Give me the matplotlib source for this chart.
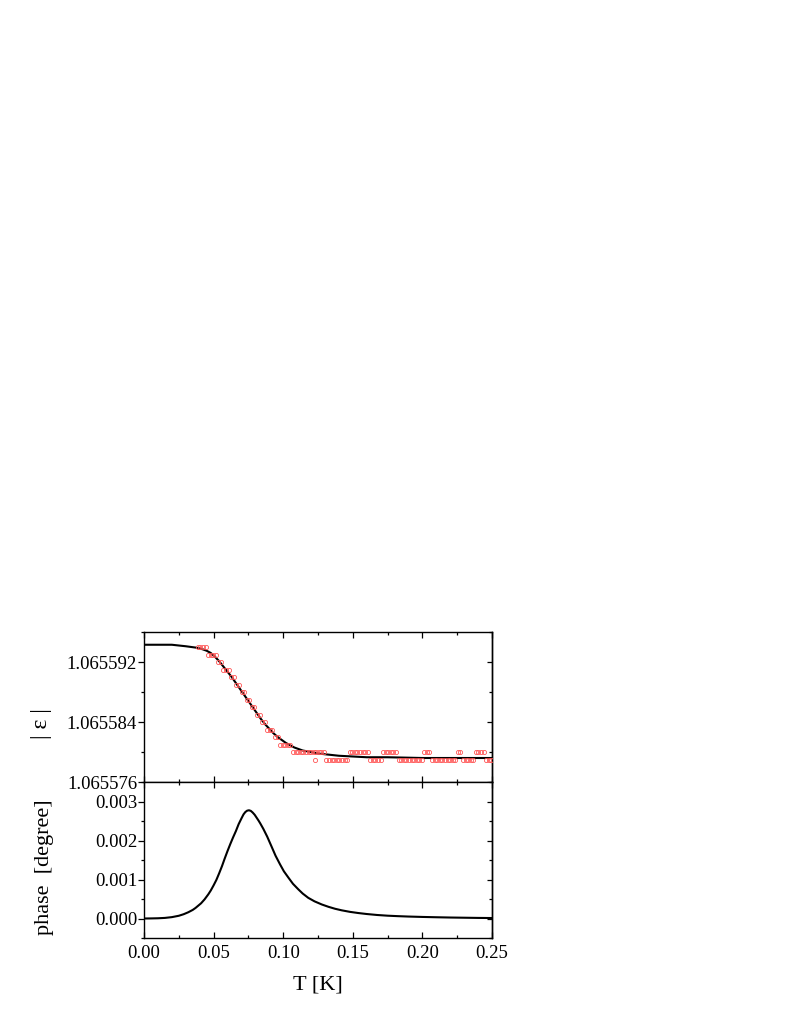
import numpy as np
import matplotlib
matplotlib.use("Agg")
import matplotlib.pyplot as plt
from matplotlib.ticker import MultipleLocator, FormatStrFormatter

plt.rcParams['font.family'] = ['Liberation Serif', 'DejaVu Serif']

# measured |eps| points (T in K)
t_data = [0.0386, 0.0405, 0.0423, 0.0442,
          0.0460, 0.0479, 0.0497, 0.0516,
          0.0534, 0.0553,
          0.0571, 0.0590, 0.0608,
          0.0627, 0.0645,
          0.0664, 0.0682,
          0.0701, 0.0719,
          0.0738, 0.0756,
          0.0775, 0.0793,
          0.0812, 0.0830,
          0.0849, 0.0867,
          0.0886, 0.0904, 0.0923,
          0.0941, 0.0960,
          0.0978, 0.0997, 0.1015, 0.1034, 0.1052,
          0.1071, 0.1089, 0.1108, 0.1126, 0.1145, 0.1163, 0.1182, 0.1200,
          0.1219, 0.1237, 0.1256, 0.1274, 0.1293,
          0.1228,
          0.1311, 0.1330, 0.1348, 0.1367, 0.1385, 0.1404, 0.1422, 0.1441, 0.1459,
          0.1478, 0.1496, 0.1515, 0.1533, 0.1552, 0.1570, 0.1589, 0.1607,
          0.1626, 0.1644, 0.1663, 0.1681, 0.1700,
          0.1718, 0.1737, 0.1755, 0.1774, 0.1792, 0.1811,
          0.1829, 0.1848, 0.1866, 0.1885, 0.1903, 0.1922, 0.1940, 0.1959, 0.1977, 0.1996,
          0.2014, 0.2033, 0.2051,
          0.2070, 0.2088, 0.2107, 0.2125, 0.2144, 0.2162, 0.2181, 0.2199, 0.2218, 0.2236,
          0.2255, 0.2273,
          0.2292, 0.2310, 0.2329, 0.2347, 0.2366,
          0.2384, 0.2403, 0.2421, 0.2440,
          0.2458, 0.2477, 0.2495]
eps_data = ([1.065594] * 4 + [1.065593] * 4 + [1.065592] * 2 + [1.065591] * 3
            + [1.065590] * 2 + [1.065589] * 2 + [1.065588] * 2 + [1.065587] * 2
            + [1.065586] * 2 + [1.065585] * 2 + [1.065584] * 2 + [1.065583] * 3
            + [1.065582] * 2 + [1.065581] * 5 + [1.065580] * 13
            + [1.065579]
            + [1.065579] * 9 + [1.065580] * 8 + [1.065579] * 5 + [1.065580] * 6
            + [1.065579] * 10 + [1.065580] * 3 + [1.065579] * 10 + [1.065580] * 2
            + [1.065579] * 5 + [1.065580] * 4 + [1.065579] * 3)

# fitted |eps| curve
t_fit = [0.000, 0.010, 0.015, 0.020, 0.025, 0.030, 0.034, 0.038, 0.042, 0.045,
         0.048, 0.051, 0.054, 0.057, 0.060, 0.063, 0.066, 0.069, 0.072, 0.075,
         0.078, 0.081, 0.084, 0.087, 0.090, 0.093, 0.096, 0.099, 0.102, 0.105,
         0.108, 0.111, 0.114, 0.117, 0.120, 0.125, 0.130, 0.135, 0.140, 0.150,
         0.160, 0.175, 0.200, 0.225, 0.250]
eps_fit = [1.0655943, 1.0655943, 1.0655943, 1.0655943, 1.0655942, 1.0655941,
           1.0655940, 1.0655939, 1.0655937, 1.0655935, 1.0655932, 1.0655927,
           1.0655921, 1.0655914, 1.0655907, 1.0655900, 1.0655892, 1.0655884,
           1.0655876, 1.0655868, 1.0655860, 1.0655852, 1.0655844, 1.0655837,
           1.0655831, 1.0655825, 1.0655820, 1.0655816, 1.0655812, 1.0655809,
           1.0655806, 1.0655804, 1.0655802, 1.0655801, 1.0655800, 1.0655798,
           1.0655797, 1.0655796, 1.0655795, 1.0655794, 1.0655793, 1.0655793,
           1.0655792, 1.0655792, 1.0655792]

# phase curve
t_phase = [0.000, 0.005, 0.010, 0.015, 0.020, 0.025, 0.0285, 0.0318, 0.035,
           0.037, 0.039, 0.041, 0.0435, 0.0462, 0.048, 0.050, 0.052, 0.054,
           0.056, 0.058, 0.060, 0.062, 0.064, 0.066, 0.068, 0.0702, 0.0715,
           0.0728, 0.0741, 0.0754, 0.0767, 0.078, 0.0795, 0.081, 0.0823,
           0.0835, 0.0857, 0.0885, 0.0917, 0.0945, 0.0977, 0.1005, 0.1037,
           0.107, 0.1108, 0.114, 0.118, 0.1225, 0.1277, 0.1325, 0.1372, 0.142,
           0.148, 0.154, 0.160, 0.1675, 0.175, 0.1825, 0.190, 0.200, 0.210,
           0.220, 0.230, 0.240, 0.250]
phase = [0.000, 0.002, 0.006, 0.015, 0.035, 0.07, 0.11, 0.16, 0.22, 0.27,
         0.33, 0.39, 0.49, 0.62, 0.72, 0.85, 0.99, 1.16, 1.34, 1.54, 1.73,
         1.91, 2.08, 2.24, 2.42, 2.58, 2.67, 2.73, 2.765, 2.775, 2.76, 2.72,
         2.66, 2.58, 2.51, 2.44, 2.30, 2.10, 1.84, 1.61, 1.39, 1.21, 1.05,
         0.89, 0.75, 0.64, 0.53, 0.44, 0.36, 0.30, 0.25, 0.21, 0.17, 0.14,
         0.115, 0.09, 0.072, 0.06, 0.05, 0.04, 0.032, 0.025, 0.02, 0.015, 0.012]
phase = [p * 1e-3 for p in phase]

W, H = 789, 1021
fig = plt.figure(figsize=(W / 100, H / 100), dpi=100)

left, width = 144 / W, 348 / W
ax1 = fig.add_axes([left, 1 - 782 / H, width, 150 / H])
ax2 = fig.add_axes([left, 1 - 938 / H, width, 156 / H])

ax1.plot(t_fit, eps_fit, color='black', lw=1.5, zorder=2)
ax1.plot(t_data, eps_data, 'o', ls='none', mfc='none', mec='#ff5555',
         ms=3.0, mew=0.6, zorder=3)
ax1.set_ylim(1.065576, 1.065596)
ax1.yaxis.set_major_locator(MultipleLocator(8e-6))
ax1.yaxis.set_minor_locator(MultipleLocator(4e-6))
ax1.yaxis.set_major_formatter(FormatStrFormatter('%.6f'))

ax2.plot(t_phase, phase, color='black', lw=1.5)
ax2.set_ylim(-0.0005, 0.0035)
ax2.yaxis.set_major_locator(MultipleLocator(0.001))
ax2.yaxis.set_minor_locator(MultipleLocator(0.0005))
ax2.yaxis.set_major_formatter(FormatStrFormatter('%.3f'))

for ax in (ax1, ax2):
    ax.set_xlim(0, 0.25)
    ax.xaxis.set_major_locator(MultipleLocator(0.05))
    ax.xaxis.set_minor_locator(MultipleLocator(0.025))
    ax.xaxis.set_major_formatter(FormatStrFormatter('%.2f'))
    for s in ax.spines.values():
        s.set_linewidth(1.0)
    ax.tick_params(axis='x', which='both', direction='in', top=True, bottom=True,
                   labelsize=13.5, pad=5, width=0.9)
    ax.tick_params(axis='x', which='major', length=4)
    ax.tick_params(axis='x', which='minor', length=2)
    ax.tick_params(axis='y', which='both', direction='out', left=True, right=False,
                   labelsize=13.5, pad=1, width=0.9)
    ax.tick_params(axis='y', which='major', length=4)
    ax.tick_params(axis='y', which='minor', length=2)
    # inward ticks on the right side
    sec = ax.secondary_yaxis('right')
    sec.yaxis.set_major_locator(ax.yaxis.get_major_locator())
    sec.yaxis.set_minor_locator(ax.yaxis.get_minor_locator())
    sec.tick_params(which='both', direction='in', labelright=False, width=0.9)
    sec.tick_params(which='major', length=3.5)
    sec.tick_params(which='minor', length=2)
    sec.spines['right'].set_linewidth(1.0)

ax1.tick_params(axis='x', labelbottom=False)

fig.text(41 / W, 1 - 724 / H, '| ε |', rotation=90, fontsize=17,
         ha='center', va='center')
fig.text(45 / W, 1 - 867 / H, 'phase  [degree]', rotation=90, fontsize=16,
         ha='center', va='center')
fig.text(318 / W, 1 - 985 / H, 'T [K]', fontsize=16, ha='center', va='center')

fig.savefig('out.png', dpi=100)
